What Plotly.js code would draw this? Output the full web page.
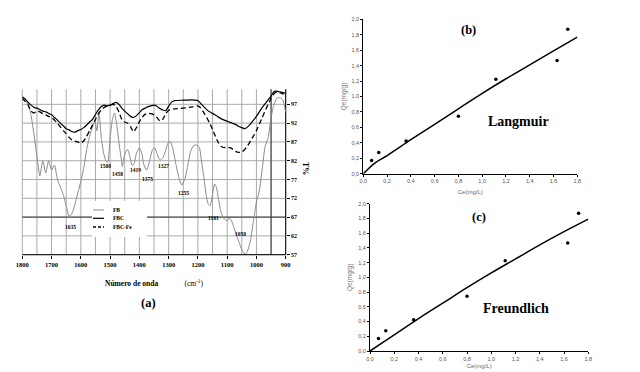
<!DOCTYPE html>
<html>
<head>
<meta charset="utf-8">
<script src="https://cdn.plot.ly/plotly-3.0.1.min.js"></script>
<style>html,body{margin:0;padding:0;background:#fff;}#chart{width:640px;height:372px;}</style>
</head>
<body>
<div id="chart"></div>
<script>
// ---------- (a) FTIR spectra ----------
const fbWn = [1800,1790,1780,1770,1760,1750,1740,1730,1720,1710,1700,1690,1680,1670,1660,1650,1640,1630,1620,1610,1600,1590,1580,1570,1560,1552,1545,1538,1530,1522,1515,1508,1500,1492,1485,1478,1470,1463,1458,1450,1440,1432,1425,1419,1410,1400,1392,1385,1375,1365,1355,1348,1340,1333,1327,1318,1310,1300,1293,1285,1275,1265,1255,1245,1235,1225,1215,1205,1195,1188,1180,1172,1165,1158,1150,1143,1137,1130,1120,1110,1100,1092,1085,1078,1070,1060,1050,1042,1035,1028,1020,1010,1000,990,980,970,960,950,940,930,920,910,900];
const fbT = [98.2,98.0,96.8,94,89,83,78,82,78.7,82,79.5,80.8,77,75,73,70,67.2,68,70.5,73.5,76.5,80,85,88.5,91,92.5,90,95,88,84,82,81.5,88,93,94.7,92,87,83,80.5,83.8,85,83,80.8,81,84,85.4,84,81,79.5,82,85,85.4,84,82.5,82.2,83,84.8,87,87,85,81,77.5,75.5,77,80.5,84.5,86,86.2,85.5,82,77.8,73,70.5,70,73,75.8,75,72,68,66.5,66,66.8,66,64.5,62.5,60.5,58.3,57.3,57.4,58.5,61,66,71,74,80,86,88,93.5,97,98.6,98.8,98.2,95];

const fbcWn = [1800,1790,1780,1770,1760,1750,1740,1730,1720,1710,1700,1690,1680,1670,1660,1650,1640,1630,1620,1610,1600,1590,1580,1570,1560,1550,1540,1530,1520,1510,1500,1490,1480,1470,1460,1450,1440,1430,1420,1410,1400,1390,1380,1370,1360,1350,1340,1330,1320,1310,1300,1290,1280,1250,1220,1200,1190,1180,1170,1160,1150,1130,1110,1090,1070,1060,1050,1040,1030,1020,1010,1000,990,980,970,960,950,940,930,920,910,900];
const fbcT = [99.0,98.4,97.5,96.8,96.2,96,95.6,95.2,95,94.6,94.2,93.5,92.8,92,91.3,90.5,90.2,89.7,89.6,90,90.3,90.8,91.5,92.3,93,94.3,95.5,96.4,96.8,96.6,96.8,97.2,97.5,97,96,95.2,94.5,93.8,93.5,94,94.8,95.6,96,96.4,96.6,96.8,96.5,95.9,95.5,95.3,96.5,97.6,98,98.1,98.2,98,97.2,96.4,95.6,95,94.6,93.6,92.8,92.2,91.6,91.1,90.8,90.5,91,91.8,92.8,93.8,95,96.2,97.2,98.2,99.2,100.4,100.5,100.3,100.1,100];

const fbcFeWn = [1800,1790,1780,1770,1760,1750,1740,1730,1720,1710,1700,1690,1680,1670,1660,1650,1640,1630,1620,1610,1600,1590,1580,1570,1560,1550,1540,1530,1520,1510,1500,1490,1480,1470,1460,1450,1440,1430,1420,1410,1400,1390,1380,1370,1360,1350,1340,1330,1320,1310,1300,1280,1250,1220,1200,1190,1180,1170,1160,1150,1140,1130,1120,1110,1100,1090,1080,1070,1060,1050,1040,1030,1020,1010,1000,990,980,970,960,950,940,930,920,910,900];
const fbcFeT = [98.6,97.8,96.8,95.2,94.7,95.2,95,94.5,94.2,93.8,93.5,92.8,92,91,90,89.2,88.2,87.5,87.2,87,86.7,87.3,88.5,90,91.5,93,94.5,95.5,96.2,96.5,96.8,97,96.5,95,93,92.3,92,91,89.7,90.8,92.4,93.6,94.4,94.6,94.5,94.2,93.5,92.6,93,94.5,95.4,95.8,96,96.3,96.6,96,94.8,93.5,92,90.3,88.5,86.8,85.8,85.5,85.6,85.5,85,84.4,84.2,84.3,85,86,87.3,88.6,90,91.8,93.5,95.3,97,98.6,99.8,100.3,100.1,99.8,99.6];

const seriesNames = ['FB','FBC','FBC-Fe'];
const peakLabels = ['1635','1508','1458','1419','1375','1327','1255','1161','1050'];
const peakLabelWn = [1636,1516,1475,1413,1373,1318,1250,1147,1054];
const peakLabelT = [64.4,80.6,78.5,79.5,77.1,80.6,73.5,66.8,62.4];
const wnGrid = [1800,1750,1700,1650,1600,1550,1500,1450,1400,1350,1300,1250,1200,1150,1100,1050,1000,950,900];
const wnLabelTicks = [1800,1700,1600,1500,1400,1300,1200,1100,1000,900];
const tTicks = [57,62,67,72,77,82,87,92,97];

// ---------- (b) Langmuir / (c) Freundlich ----------
const ceData = [0.07,0.13,0.36,0.80,1.115,1.63,1.72];
const qeData = [0.17,0.275,0.425,0.745,1.225,1.465,1.87];
const langCe = [0,0.1,0.2,0.4,0.6,0.8,1.0,1.2,1.4,1.6,1.8];
const langQe = [0,0.14,0.235,0.44,0.64,0.84,1.04,1.23,1.41,1.59,1.77];
const freuCe = [0,0.2,0.4,0.6,0.8,1.0,1.2,1.4,1.6,1.8];
const freuQe = [0,0.22,0.44,0.65,0.86,1.06,1.25,1.44,1.62,1.79];
const strayCe = [1.84];
const strayQe = [1.0];

const serif = 'Liberation Serif';
const sans = 'Liberation Sans';
const bold = s => s ? '<b>' + s + '</b>' : '';

const px = v => v/640, py = v => 1 - v/372;
// panel (a) geometry (pixels) and ranges
const A = {x0:22.3, x1:285.7, yb:254.7, yt:89.3, wnMax:1800, wnMin:900, tMin:57, tMax:101};
const wnPaper = wn => px(A.x0 + (A.wnMax - wn) * (A.x1 - A.x0) / (A.wnMax - A.wnMin));
const tPaper = t => py(A.yb - (t - A.tMin) * (A.yb - A.yt) / (A.tMax - A.tMin));

const traces = [
  {x: fbWn, y: fbT, xaxis:'x', yaxis:'y', mode:'lines', name: seriesNames[0],
   line:{color:'#8a8a8a', width:1, shape:'spline', smoothing:0.5}},
  {x: fbcWn, y: fbcT, xaxis:'x', yaxis:'y', mode:'lines', name: seriesNames[1],
   line:{color:'#000', width:1.2, shape:'spline', smoothing:0.5}},
  {x: fbcFeWn, y: fbcFeT, xaxis:'x', yaxis:'y', mode:'lines', name: seriesNames[2],
   line:{color:'#000', width:1.3, dash:'5px,3px', shape:'spline', smoothing:0.5}},
  {x: langCe, y: langQe, xaxis:'x2', yaxis:'y2', mode:'lines', name:'Langmuir',
   line:{color:'#000', width:1.5, shape:'spline'}},
  {x: ceData, y: qeData, xaxis:'x2', yaxis:'y2', mode:'markers', name:'data',
   marker:{color:'#000', size:3.5}},
  {x: freuCe, y: freuQe, xaxis:'x3', yaxis:'y3', mode:'lines', name:'Freundlich',
   line:{color:'#000', width:1.5, shape:'spline'}},
  {x: ceData, y: qeData, xaxis:'x3', yaxis:'y3', mode:'markers', name:'data',
   marker:{color:'#000', size:3.5}},
  {x: strayCe, y: strayQe, xaxis:'x3', yaxis:'y3', mode:'markers', name:'stray',
   marker:{color:'#cfcfcf', size:3}, cliponaxis:false}
];

const ctr = {xanchor:'center', yanchor:'middle', showarrow:false, xref:'paper', yref:'paper'};

const annotations = peakLabels.map((t,i)=>Object.assign({
  text:bold(t), x: wnPaper(peakLabelWn[i]), y: tPaper(peakLabelT[i]),
  font:{family:serif, size:5.5, color:'#000'}
}, ctr));

// legend (a)
const legY = [210, 218.3, 227];
seriesNames.forEach((n,i)=>{
  annotations.push({text:bold(n), x:px(111), y:py(legY[i]), xref:'paper', yref:'paper', xanchor:'left', yanchor:'middle',
    showarrow:false, font:{family:serif, size:5.5, color:'#000'}});
});

annotations.push(
  Object.assign({text:bold('T%'), x:px(306), y:py(168), textangle:90,
   font:{family:serif, size:8, color:'#000'}}, ctr),
  Object.assign({text:bold('(a)'), x:px(148), y:py(303),
   font:{family:serif, size:12.5, color:'#000'}}, ctr),
  Object.assign({text:bold('(b)'), x:px(468), y:py(30),
   font:{family:serif, size:12.5, color:'#000'}}, ctr),
  Object.assign({text:bold('Langmuir'), x:px(518), y:py(122),
   font:{family:serif, size:14, color:'#000'}}, ctr),
  Object.assign({text:bold('(c)'), x:px(479), y:py(217),
   font:{family:serif, size:12.5, color:'#000'}}, ctr),
  Object.assign({text:bold('Freundlich'), x:px(516), y:py(308),
   font:{family:serif, size:14, color:'#000'}}, ctr)
);

// panel (a) grid and frame lines, drawn under the curves
const gridCol = '#aaaaaa';
const shapes = [];
wnGrid.forEach(w => shapes.push({type:'line', xref:'paper', yref:'paper', x0:wnPaper(w), x1:wnPaper(w),
  y0:py(A.yb), y1:py(A.yt), line:{color:gridCol, width:1}, layer:'below'}));
tTicks.forEach(t => shapes.push({type:'line', xref:'paper', yref:'paper', x0:px(A.x0), x1:px(A.x1),
  y0:tPaper(t), y1:tPaper(t), line:{color:gridCol, width:1}, layer:'below'}));
shapes.push(
  {type:'line', xref:'paper', yref:'paper', x0:px(A.x0), x1:px(A.x1), y0:tPaper(67), y1:tPaper(67), line:{color:'#333', width:1}, layer:'below'},
  {type:'line', xref:'paper', yref:'paper', x0:wnPaper(950), x1:wnPaper(950), y0:py(A.yb), y1:py(A.yt), line:{color:'#333', width:1}, layer:'below'},
  {type:'line', xref:'paper', yref:'paper', x0:px(A.x0), x1:px(A.x1), y0:py(A.yb), y1:py(A.yb), line:{color:'#000', width:1}, layer:'below'},
  {type:'line', xref:'paper', yref:'paper', x0:px(A.x1), x1:px(A.x1), y0:py(A.yb), y1:py(A.yt), line:{color:'#000', width:1}, layer:'below'},
  {type:'rect', xref:'paper', yref:'paper', x0:px(92), x1:px(147), y0:py(237), y1:py(201),
   fillcolor:'#fff', line:{width:0}, layer:'above'},
  {type:'line', xref:'paper', yref:'paper', x0:px(93), x1:px(104), y0:py(legY[0]), y1:py(legY[0]), line:{color:'#8a8a8a', width:1}, layer:'above'},
  {type:'line', xref:'paper', yref:'paper', x0:px(93), x1:px(104), y0:py(legY[1]), y1:py(legY[1]), line:{color:'#000', width:1.2}, layer:'above'},
  {type:'line', xref:'paper', yref:'paper', x0:px(93), x1:px(104), y0:py(legY[2]), y1:py(legY[2]), line:{color:'#000', width:1.3, dash:'3px,2px'}, layer:'above'}
);

const isoX = {
  range:[0,1.8], dtick:0.2, tick0:0, tickformat:'.1f', ticks:'outside', ticklen:2, tickcolor:'#000',
  showline:true, linecolor:'#000', showgrid:false, zeroline:false,
  tickfont:{family:sans, size:5.5, color:'#555'}
};
const isoY = {
  range:[0,2.0], dtick:0.2, tick0:0, tickformat:'.1f', ticks:'outside', ticklen:2, tickcolor:'#000',
  showline:true, linecolor:'#000', showgrid:false, zeroline:false,
  tickfont:{family:sans, size:5.5, color:'#555'}
};

const layout = {
  width:640, height:372, margin:{l:0, r:0, t:0, b:0},
  paper_bgcolor:'#fff', plot_bgcolor:'rgba(0,0,0,0)',
  separators:',.', showlegend:false,
  xaxis:{
    domain:[px(A.x0), px(A.x1)], range:[A.wnMax, A.wnMin], anchor:'y',
    tickmode:'array', tickvals:wnLabelTicks, ticktext:wnLabelTicks.map(v=>bold(String(v))),
    ticks:'outside', ticklen:3, tickcolor:'#000',
    showgrid:false, zeroline:false, showline:false,
    tickfont:{family:serif, size:6.5, color:'#000'},
    title:{text:bold('Número de onda') + '\u00a0'.repeat(14) + '(cm<sup>-1</sup>)', standoff:14,
           font:{family:serif, size:7.5, color:'#000'}}
  },
  yaxis:{
    domain:[py(A.yb), py(A.yt)], range:[A.tMin, A.tMax], anchor:'x', side:'right',
    tickmode:'array', tickvals:tTicks, ticktext:tTicks.map(v=>bold(String(v))),
    ticks:'outside', ticklen:3, tickcolor:'#000',
    showgrid:false, zeroline:false, showline:false,
    tickfont:{family:serif, size:6, color:'#000'}
  },
  xaxis2:Object.assign({}, isoX, {domain:[px(363.3), px(577.3)], anchor:'y2',
    title:{text:'Ce(mg/L)', standoff:6, font:{family:sans, size:6, color:'#666'}}}),
  yaxis2:Object.assign({}, isoY, {domain:[py(173.7), py(19.3)], anchor:'x2',
    title:{text:'Qe(mg/g)', standoff:4, font:{family:sans, size:6.5, color:'#777'}}}),
  xaxis3:Object.assign({}, isoX, {domain:[px(370), px(588.3)], anchor:'y3',
    title:{text:'Ce(mg/L)', standoff:3, font:{family:sans, size:6, color:'#666'}}}),
  yaxis3:Object.assign({}, isoY, {domain:[py(351), py(203.7)], anchor:'x3',
    title:{text:'Qe(mg/g)', standoff:4, font:{family:sans, size:6.5, color:'#777'}}}),
  annotations: annotations,
  shapes: shapes
};

Plotly.newPlot('chart', traces, layout, {staticPlot:true, displayModeBar:false});
</script>
</body>
</html>
